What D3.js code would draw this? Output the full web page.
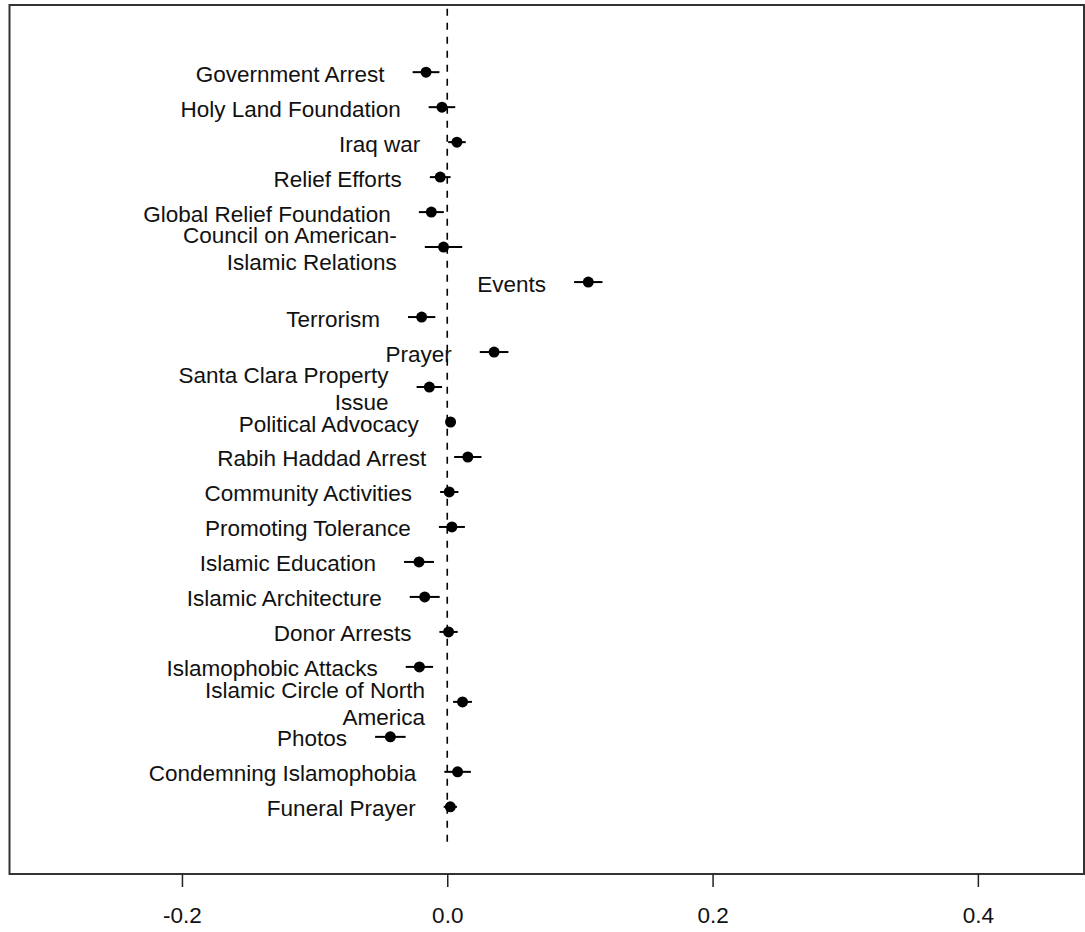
<!DOCTYPE html>
<html>
<head>
<meta charset="utf-8">
<script src="https://cdn.jsdelivr.net/npm/d3@7"></script>
<style>
  html, body { margin: 0; padding: 0; background: #fff; }
  svg { display: block; font-family: "Liberation Sans", Arial, sans-serif; }
</style>
</head>
<body>
<svg id="chart" width="1085" height="932"></svg>
<script>
// Topic labels, top to bottom (\n marks a line break)
const topics = [
  "Government Arrest",
  "Holy Land Foundation",
  "Iraq war",
  "Relief Efforts",
  "Global Relief Foundation",
  "Council on American-\nIslamic Relations",
  "Events",
  "Terrorism",
  "Prayer",
  "Santa Clara Property\nIssue",
  "Political Advocacy",
  "Rabih Haddad Arrest",
  "Community Activities",
  "Promoting Tolerance",
  "Islamic Education",
  "Islamic Architecture",
  "Donor Arrests",
  "Islamophobic Attacks",
  "Islamic Circle of North\nAmerica",
  "Photos",
  "Condemning Islamophobia",
  "Funeral Prayer"
];

// Point estimates
const estimates = [
  -0.0160, -0.0040, 0.0073, -0.0053, -0.0120, -0.0028, 0.1063, -0.0193,
  0.0353, -0.0135, 0.0025, 0.0155, 0.0015, 0.0035, -0.0213, -0.0170,
  0.0010, -0.0210, 0.0115, -0.0429, 0.0078, 0.0023
];

// Half-widths of the interval bars
const halfWidths = [
  0.0101, 0.0100, 0.0066, 0.0078, 0.0094, 0.0141, 0.0107, 0.0103,
  0.0108, 0.0096, 0.0028, 0.0103, 0.0069, 0.0098, 0.0113, 0.0113,
  0.0069, 0.0103, 0.0071, 0.0115, 0.0100, 0.0050
];

const xTickValues = [-0.2, 0.0, 0.2, 0.4];
const xTickLabels = ["-0.2", "0.0", "0.2", "0.4"];

const rows = topics.map((t, i) => ({
  label: t,
  est: estimates[i],
  lo: estimates[i] - halfWidths[i],
  hi: estimates[i] + halfWidths[i],
  pos: topics.length - i
}));

const svg = d3.select("#chart");
const box = { left: 9.5, right: 1084, top: 5, bottom: 874 };

const x = d3.scaleLinear().domain([-0.33, 0.48]).range([box.left, box.right]);
const y = d3.scaleLinear().domain([-0.92, 23.92]).range([box.bottom, box.top]);

// Zero reference line
svg.append("line")
  .attr("x1", x(0)).attr("x2", x(0))
  .attr("y1", y(0)).attr("y2", box.top)
  .attr("stroke", "#000")
  .attr("stroke-width", 1.6)
  .attr("stroke-dasharray", "7,7");

const g = svg.append("g");

// Interval bars
g.selectAll("line.ci")
  .data(rows)
  .join("line")
  .attr("class", "ci")
  .attr("x1", d => x(d.lo))
  .attr("x2", d => x(d.hi))
  .attr("y1", d => y(d.pos))
  .attr("y2", d => y(d.pos))
  .attr("stroke", "#000")
  .attr("stroke-width", 2);

// Points
g.selectAll("circle.pt")
  .data(rows)
  .join("circle")
  .attr("class", "pt")
  .attr("cx", d => x(d.est))
  .attr("cy", d => y(d.pos))
  .attr("r", 5.5)
  .attr("fill", "#000");

// Labels sit just left of each interval's lower end
const fontSize = 22.5;
const lineGap = 27.5;
const labels = g.selectAll("text.lab")
  .data(rows)
  .join("text")
  .attr("class", "lab")
  .attr("text-anchor", "end")
  .attr("font-size", fontSize)
  .attr("fill", "#111");

labels.each(function(d) {
  const lines = d.label.split("\n");
  const tx = x(d.lo) - 28;
  const cy = y(d.pos);
  const first = cy - (lines.length - 1) * lineGap / 2;
  d3.select(this).selectAll("tspan")
    .data(lines)
    .join("tspan")
    .attr("x", tx)
    .attr("y", (l, k) => first + k * lineGap + 9.5)
    .text(l => l);
});

// Plot frame
svg.append("rect")
  .attr("x", box.left).attr("y", box.top)
  .attr("width", box.right - box.left)
  .attr("height", box.bottom - box.top)
  .attr("fill", "none")
  .attr("stroke", "#333")
  .attr("stroke-width", 2);

// Bottom axis
const axis = d3.axisBottom(x)
  .tickValues(xTickValues)
  .tickFormat((v, i) => xTickLabels[i])
  .tickSize(13)
  .tickPadding(20);

const ax = svg.append("g")
  .attr("transform", `translate(0,${box.bottom})`)
  .call(axis);
ax.select(".domain").remove();
ax.selectAll(".tick line").attr("stroke", "#222").attr("stroke-width", 1.5);
ax.selectAll(".tick text")
  .attr("font-size", fontSize)
  .attr("font-family", "Liberation Sans, Arial, sans-serif")
  .attr("fill", "#111");
</script>
</body>
</html>
